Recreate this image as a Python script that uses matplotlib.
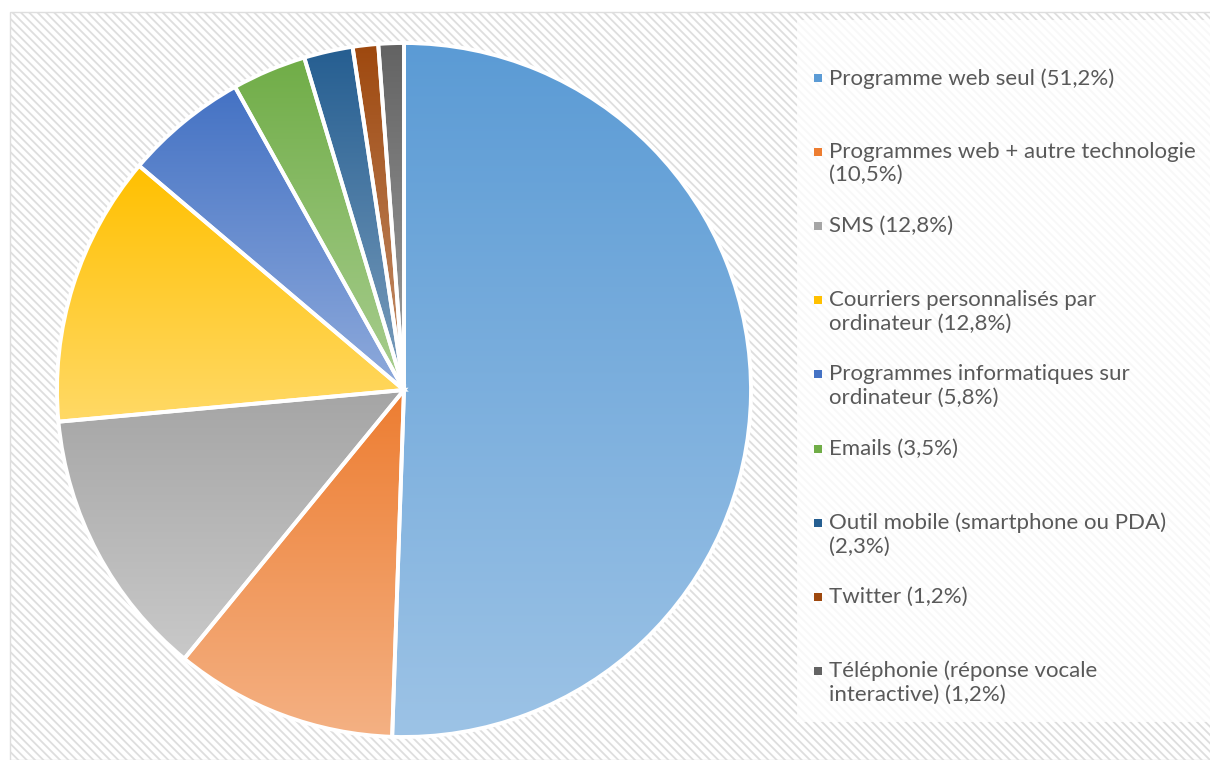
import matplotlib.pyplot as plt
import matplotlib.patches as mpatches
from matplotlib.colors import to_rgb
import numpy as np

plt.rcParams['hatch.color'] = '#e4e4e4'
plt.rcParams['hatch.linewidth'] = 1.3

# donnees
etiquettes = [
    "Programme web seul (51,2%)",
    "Programmes web + autre technologie\n(10,5%)",
    "SMS (12,8%)",
    "Courriers personnalisés par\nordinateur (12,8%)",
    "Programmes informatiques sur\nordinateur (5,8%)",
    "Emails (3,5%)",
    "Outil mobile (smartphone ou PDA)\n(2,3%)",
    "Twitter (1,2%)",
    "Téléphonie (réponse vocale\ninteractive) (1,2%)",
]
valeurs = [51.2, 10.5, 12.8, 12.8, 5.8, 3.5, 2.3, 1.2, 1.2]
couleurs = ['#5B9BD5', '#ED7D31', '#A5A5A5', '#FFC000', '#4472C4',
            '#70AD47', '#255E91', '#9E480E', '#636363']

W, H = 1210, 760
fig = plt.figure(figsize=(W / 100, H / 100), dpi=100)
fig.patch.set_facecolor('white')

# fond hachure
fond = mpatches.Rectangle((10 / W, 0), 1.2, (H - 12) / H, transform=fig.transFigure,
                          facecolor='white', edgecolor='#dedede', hatch='\\\\\\\\', lw=1.0,
                          zorder=0)
fig.patches.append(fond)

# zone de legende
boite = mpatches.Rectangle((797 / W, (H - 722) / H), 1.0, 702 / H, transform=fig.transFigure,
                           facecolor='white', edgecolor='none', alpha=0.8, zorder=0.5)
fig.patches.append(boite)

# camembert
cx, cy, r = 404, H - 390, 347
ax = fig.add_axes([(cx - r) / W, (cy - r) / H, 2 * r / W, 2 * r / H])
ax.set_zorder(5)
ax.patch.set_alpha(0)
parts, _ = ax.pie(valeurs, colors=couleurs, startangle=90, counterclock=False, radius=1,
                  wedgeprops=dict(edgecolor='white', linewidth=2.8))
ax.axis('off')


def degrade(c, n=256):
    c = np.array(to_rgb(c))
    clair = c + 0.4 * (1 - c)
    t = np.linspace(0, 1, n)[:, None]
    return (c * (1 - t) + clair * t)[:, None, :]


for w, c in zip(parts, couleurs):
    v = w.get_patch_transform().transform(w.get_path().vertices)
    x0, x1 = v[:, 0].min(), v[:, 0].max()
    y0, y1 = v[:, 1].min(), v[:, 1].max()
    im = ax.imshow(degrade(c), extent=(x0, x1, y0, y1), origin='upper',
                   aspect='auto', zorder=1, interpolation='bilinear')
    im.set_clip_path(w)
    w.set_facecolor('none')
    w.set_zorder(2)
ax.set_xlim(-1, 1)
ax.set_ylim(-1, 1)

# legende
pas = 74.1
for i, (lab, c) in enumerate(zip(etiquettes, couleurs)):
    yc = 78 + i * pas
    carre = mpatches.Rectangle((814 / W, (H - yc - 4) / H), 8 / W, 8 / H,
                               transform=fig.transFigure, facecolor=c, edgecolor='none',
                               zorder=2)
    fig.patches.append(carre)
    fig.text(829 / W, (H - yc + 10) / H, lab, fontsize=16, family='Lato',
             color='#595959', va='top', ha='left', linespacing=1.2, zorder=3)

fig.savefig('out.png', dpi=100)
